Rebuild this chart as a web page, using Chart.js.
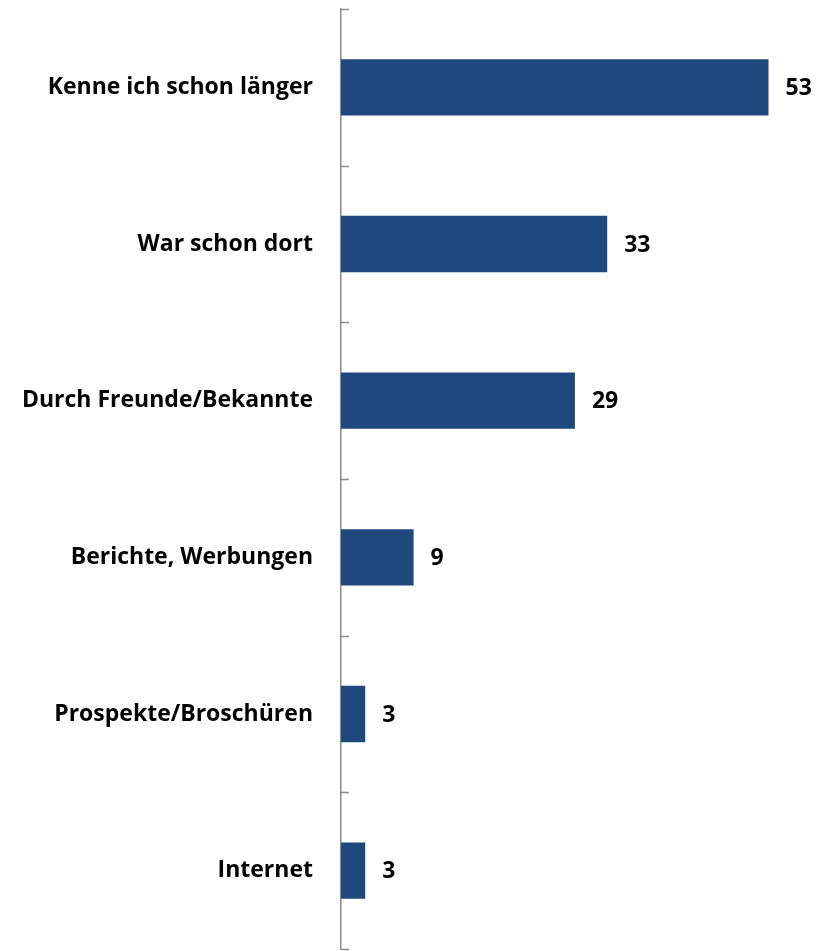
<!DOCTYPE html>
<html>
<head>
<meta charset="utf-8">
<script src="https://cdn.jsdelivr.net/npm/chart.js@4"></script>
<style>
  body { margin: 0; background: #fff; }
  #wrap { width: 827px; height: 951px; position: relative; }
</style>
</head>
<body>
<div id="wrap"><canvas id="barChart"></canvas></div>
<script>
// Kategorien und Werte
const categories = [
  'Kenne ich schon länger',
  'War schon dort',
  'Durch Freunde/Bekannte',
  'Berichte, Werbungen',
  'Prospekte/Broschüren',
  'Internet'
];
const values = [53, 33, 29, 9, 3, 3];

const labelFont = { family: '"Open Sans", Lato, sans-serif', size: 23, weight: 'bold' };

// kleine Striche rechts an der Achse (Kategoriegrenzen)
const tickMarks = {
  id: 'tickMarks',
  afterDraw(chart) {
    const s = chart.scales.y;
    const ctx = chart.ctx;
    const n = categories.length;
    const step = (s.bottom - s.top) / n;
    ctx.save();
    ctx.strokeStyle = '#8c8c8c';
    ctx.lineWidth = 1.5;
    for (let i = 0; i <= n; i++) {
      const y = Math.round(s.top + i * step) + 0.5;
      ctx.beginPath();
      ctx.moveTo(s.right, y);
      ctx.lineTo(s.right + 8, y);
      ctx.stroke();
    }
    ctx.restore();
  }
};

// Werte rechts neben den Balken
const valueLabels = {
  id: 'valueLabels',
  afterDatasetsDraw(chart) {
    const ctx = chart.ctx;
    const meta = chart.getDatasetMeta(0);
    ctx.save();
    ctx.font = `${labelFont.weight} ${labelFont.size}px ${labelFont.family}`;
    ctx.fillStyle = '#000';
    ctx.textAlign = 'left';
    ctx.textBaseline = 'middle';
    meta.data.forEach((bar, i) => {
      ctx.fillText(values[i], bar.x + 17, bar.y + 1);
    });
    ctx.restore();
  }
};

new Chart(document.getElementById('barChart'), {
  type: 'bar',
  data: {
    labels: categories,
    datasets: [{
      data: values,
      backgroundColor: '#1f497d',
      barPercentage: 0.36,
      categoryPercentage: 1
    }]
  },
  options: {
    indexAxis: 'y',
    responsive: true,
    maintainAspectRatio: false,
    animation: false,
    layout: { padding: { top: 9, bottom: 2, left: 0, right: 2 } },
    plugins: {
      legend: { display: false },
      tooltip: { enabled: false }
    },
    scales: {
      x: { display: false, min: 0, max: 60 },
      y: {
        offset: true,
        afterFit(scale) {
          scale.width = 341;
          scale.paddingTop = 0;
          scale.paddingBottom = 0;
        },
        grid: { display: true, drawOnChartArea: false, drawTicks: false },
        border: { display: true, color: '#8c8c8c', width: 1.5 },
        ticks: {
          color: '#000',
          font: labelFont,
          padding: 28
        }
      }
    }
  },
  plugins: [tickMarks, valueLabels]
});
</script>
</body>
</html>
